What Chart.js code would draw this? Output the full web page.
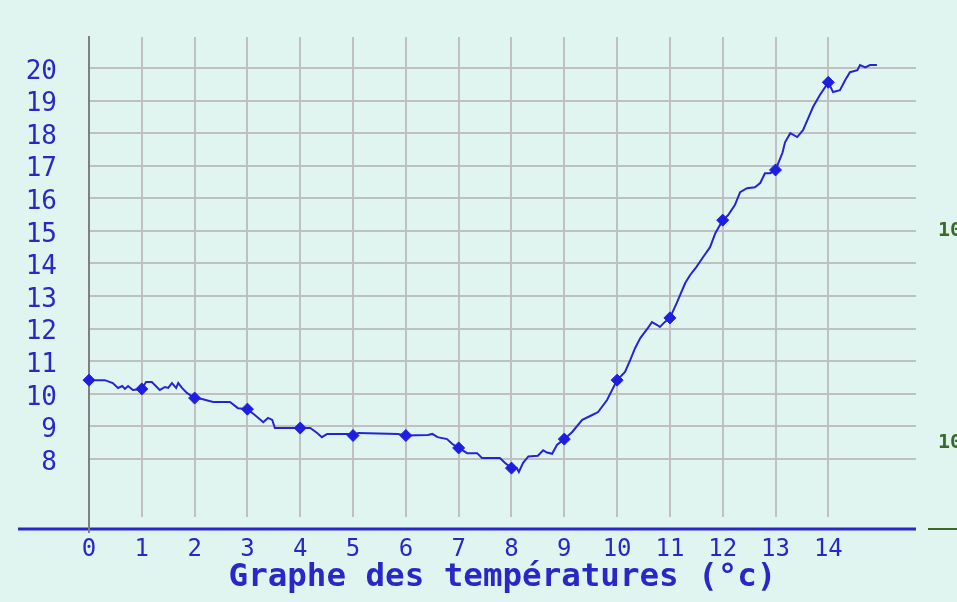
<!DOCTYPE html>
<html>
<head>
<meta charset="utf-8">
<script src="https://cdn.jsdelivr.net/npm/chart.js@4.4.1/dist/chart.umd.min.js"></script>
<style>
  html, body { margin: 0; padding: 0; background: #e1f5f0; }
  canvas { display: block; }
</style>
</head>
<body>
<canvas id="c" width="957" height="602"></canvas>
<script>
// ---- data ----
const traceX = [0, 0.3, 0.45, 0.55, 0.63, 0.68, 0.74, 0.83, 1, 1.08, 1.19, 1.34, 1.44, 1.5, 1.57, 1.65, 1.69, 1.76, 1.86,
  2, 2.14, 2.35, 2.67, 2.82, 3, 3.14, 3.3, 3.39, 3.47, 3.52, 4, 4.19, 4.32, 4.41, 4.51, 4.9, 5, 5.1, 5.85,
  6, 6.42, 6.5, 6.6, 6.78, 6.88, 7, 7.16, 7.35, 7.44, 7.78, 7.88, 8, 8.1, 8.14, 8.22, 8.32, 8.5, 8.6, 8.67, 8.77, 8.86,
  9, 9.15, 9.34, 9.53, 9.64, 9.81, 10, 10.15, 10.25, 10.34, 10.44, 10.57, 10.66, 10.76, 10.81, 10.9,
  11, 11.13, 11.29, 11.38, 11.5, 11.63, 11.76, 11.86, 12, 12.1, 12.23, 12.33, 12.46, 12.61, 12.71, 12.8, 12.9,
  13, 13.13, 13.18, 13.28, 13.41, 13.52, 13.62, 13.71, 13.84, 13.94, 14, 14.09, 14.22, 14.32, 14.41, 14.55, 14.6, 14.7, 14.79, 14.92];
const traceY = [10.42, 10.42, 10.33, 10.18, 10.24, 10.15, 10.24, 10.12, 10.15, 10.36, 10.36, 10.12, 10.21, 10.18, 10.33, 10.18, 10.33, 10.18, 10.02,
  9.87, 9.84, 9.75, 9.75, 9.56, 9.53, 9.35, 9.13, 9.26, 9.2, 8.95, 8.95, 8.95, 8.8, 8.67, 8.77, 8.77, 8.72, 8.8, 8.77,
  8.72, 8.74, 8.77, 8.67, 8.61, 8.46, 8.34, 8.18, 8.18, 8.03, 8.03, 7.88, 7.72, 7.72, 7.6, 7.88, 8.08, 8.1, 8.27, 8.2, 8.16, 8.43,
  8.61, 8.83, 9.2, 9.35, 9.44, 9.81, 10.42, 10.67, 11.04, 11.4, 11.71, 11.99, 12.2, 12.11, 12.05, 12.2,
  12.33, 12.79, 13.4, 13.64, 13.89, 14.2, 14.5, 14.93, 15.33, 15.48, 15.79, 16.19, 16.31, 16.34, 16.47, 16.77, 16.77,
  16.87, 17.39, 17.72, 18.0, 17.88, 18.09, 18.46, 18.8, 19.17, 19.41, 19.56, 19.26, 19.32, 19.63, 19.87, 19.93, 20.09, 20.02, 20.09, 20.09];
const markerX = [0, 1, 2, 3, 4, 5, 6, 7, 8, 9, 10, 11, 12, 13, 14];
const markerY = [10.42, 10.15, 9.87, 9.53, 8.95, 8.72, 8.72, 8.34, 7.72, 8.61, 10.42, 12.33, 15.33, 16.87, 19.56];
const xTicks = [0, 1, 2, 3, 4, 5, 6, 7, 8, 9, 10, 11, 12, 13, 14];
const yTicks = [8, 9, 10, 11, 12, 13, 14, 15, 16, 17, 18, 19, 20];
const rightTicks = [1010, 1020];
const titleText = 'Graphe des températures (°c)';

// ---- styles ----
const BLUE = 'rgb(40,40,200)';
const LINE = 'rgb(36,36,215)';
const GRID = 'rgb(192,192,192)';
const GREEN = 'rgb(60,105,40)';

const extras = {
  id: 'extras',
  afterDraw(chart) {
    const {ctx, chartArea} = chart;
    const base = chartArea.bottom + 12;
    ctx.save();
    ctx.strokeStyle = BLUE;
    ctx.lineWidth = 3;
    ctx.beginPath(); ctx.moveTo(18, base); ctx.lineTo(chartArea.right, base); ctx.stroke();
    ctx.strokeStyle = 'rgb(128,128,128)';
    ctx.lineWidth = 2;
    ctx.beginPath(); ctx.moveTo(chartArea.left, chartArea.bottom); ctx.lineTo(chartArea.left, base + 4); ctx.stroke();
    ctx.strokeStyle = GREEN;
    ctx.beginPath(); ctx.moveTo(chartArea.right + 12, base); ctx.lineTo(chart.width, base); ctx.stroke();
    ctx.restore();
  }
};

const noPad = s => { s.paddingTop = 0; s.paddingBottom = 0; };

new Chart(document.getElementById('c'), {
  type: 'line',
  data: {
    datasets: [
      {
        label: 'markers',
        data: markerX.map((x, i) => ({x, y: markerY[i]})),
        showLine: false,
        pointStyle: 'rectRot',
        pointRadius: 6,
        pointBackgroundColor: 'rgb(30,30,225)',
        pointBorderColor: 'rgb(30,30,225)',
        pointBorderWidth: 1,
        clip: false,
        yAxisID: 'y'
      },
      {
        label: 'trace',
        data: traceX.map((x, i) => ({x, y: traceY[i]})),
        borderColor: LINE,
        borderWidth: 2,
        pointRadius: 0,
        tension: 0,
        fill: false,
        yAxisID: 'y'
      }
    ]
  },
  options: {
    responsive: false,
    animation: false,
    layout: {padding: {top: 37, left: 0, right: 0, bottom: 0}},
    plugins: {legend: {display: false}, tooltip: {enabled: false}},
    scales: {
      x: {
        type: 'linear',
        min: 0,
        max: 15.66,
        afterBuildTicks: s => { s.ticks = xTicks.map(v => ({value: v})); },
        afterFit: s => { s.height = 85; s.paddingLeft = 0; s.paddingRight = 0; },
        grid: {color: GRID, lineWidth: 2, drawTicks: false},
        border: {display: false},
        ticks: {
          autoSkip: false, maxRotation: 0, padding: 18,
          color: BLUE,
          font: {family: 'DejaVu Sans Mono', size: 24},
          callback: v => String(v)
        },
        title: {
          display: true,
          text: titleText,
          color: BLUE,
          font: {family: 'DejaVu Sans Mono', size: 32.5, weight: 'bold'},
          padding: {top: 0, bottom: 5}
        }
      },
      y: {
        position: 'left',
        min: 6.22,
        max: 20.95,
        afterBuildTicks: s => { s.ticks = yTicks.map(v => ({value: v})); },
        afterFit: s => { s.width = 89; noPad(s); },
        grid: {color: GRID, lineWidth: 2, drawTicks: false},
        border: {display: true, color: 'rgb(128,128,128)', width: 2},
        ticks: {
          padding: 32, labelOffset: 4,
          color: BLUE,
          font: {family: 'DejaVu Sans Mono', size: 26},
          callback: v => String(v)
        }
      },
      y2: {
        position: 'right',
        min: 1006.5,
        max: 1029.15,
        afterBuildTicks: s => { s.ticks = rightTicks.map(v => ({value: v})); },
        afterFit: s => { s.width = 41; noPad(s); },
        grid: {display: false, drawTicks: false},
        border: {display: false},
        ticks: {
          padding: 22,
          color: GREEN,
          font: {family: 'DejaVu Sans Mono', size: 20, weight: 'bold'},
          callback: v => String(v)
        }
      }
    }
  },
  plugins: [extras]
});
</script>
</body>
</html>
